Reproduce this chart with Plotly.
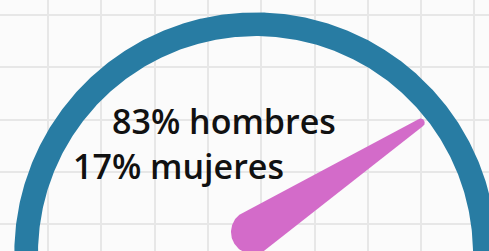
import numpy as np
import plotly.graph_objects as go

# ---- data ----
labels = ["hombres", "mujeres"]
values = [83, 17]          # percentages
needle_value = values[0]   # gauge shows share of men

# ---- gauge geometry / style (pixel space) ----
W, H = 489, 251
CX, CY = 255.5, 253.6
R_IN, R_OUT = 217.5, 241.2
G_MIN, G_MAX = 0, 100
A_START, A_END = 180.0, 3.0      # degrees for G_MIN and G_MAX
PIVOT = (253.0, 232.0)
BASE_R, TIP_R, NEEDLE_LEN = 22.0, 4.2, 200.0

ARC_COLOR = "#287ca3"
NEEDLE_COLOR = "#d36bc9"
BG = "#fbfbfb"
GRID = "#e7e7e7"

def val_to_angle(v):
    return np.radians(A_START + (v - G_MIN) / (G_MAX - G_MIN) * (A_END - A_START))

fig = go.Figure()

# arc band (full half ring, extending slightly below the frame)
t = np.radians(np.linspace(-3, 183, 400))
ox = CX + R_OUT * np.cos(t); oy = CY - R_OUT * np.sin(t)
ix = CX + R_IN * np.cos(t[::-1]); iy = CY - R_IN * np.sin(t[::-1])
fig.add_trace(go.Scatter(x=np.concatenate([ox, ix]), y=np.concatenate([oy, iy]),
                         fill="toself", fillcolor=ARC_COLOR, mode="lines",
                         line=dict(width=0, color=ARC_COLOR), hoverinfo="skip",
                         showlegend=False))

# needle (tapered, rounded ends)
th = val_to_angle(needle_value)
px, py = PIVOT
tx = px + NEEDLE_LEN * np.cos(th)
ty = py - NEEDLE_LEN * np.sin(th)
beta = np.arcsin((BASE_R - TIP_R) / NEEDLE_LEN)
a1 = th - (np.pi / 2 + beta)
a2 = th + (np.pi / 2 + beta)
tip_ang = np.linspace(a1, a2, 40)
base_ang = np.linspace(a2, a1 + 2 * np.pi, 80)
nx = np.concatenate([tx + TIP_R * np.cos(tip_ang), px + BASE_R * np.cos(base_ang)])
ny = np.concatenate([ty - TIP_R * np.sin(tip_ang), py - BASE_R * np.sin(base_ang)])
fig.add_trace(go.Scatter(x=nx, y=ny, fill="toself", fillcolor=NEEDLE_COLOR,
                         mode="lines", line=dict(width=0, color=NEEDLE_COLOR),
                         hoverinfo="skip", showlegend=False))

# labels
texts = [f"{v}% {l}" for v, l in zip(values, labels)]
positions = [(110, 121), (71, 166)]
for txt, (x, y) in zip(texts, positions):
    fig.add_annotation(x=x, y=y, xref="x", yref="y", text=txt, showarrow=False,
                       xanchor="left", yanchor="middle",
                       font=dict(family="Open Sans", size=34, color="#111111",
                                 weight=600))

fig.update_layout(
    width=W, height=H, margin=dict(l=0, r=0, t=0, b=0),
    paper_bgcolor=BG, plot_bgcolor=BG,
    xaxis=dict(range=[0, W], showticklabels=False, zeroline=False,
               showgrid=True, gridcolor=GRID, gridwidth=2, tick0=48, dtick=53.3,
               fixedrange=True),
    yaxis=dict(range=[H, 0], showticklabels=False, zeroline=False,
               showgrid=True, gridcolor=GRID, gridwidth=2, tick0=15, dtick=52.3,
               fixedrange=True),
)

fig.write_html("out.html", config={"displayModeBar": False})

# remove the browser's default page margin so the figure sits at (0, 0)
with open("out.html", encoding="utf-8") as f:
    html = f.read()
html = html.replace("<body>", '<body style="margin:0;padding:0;overflow:hidden">', 1)
with open("out.html", "w", encoding="utf-8") as f:
    f.write(html)
